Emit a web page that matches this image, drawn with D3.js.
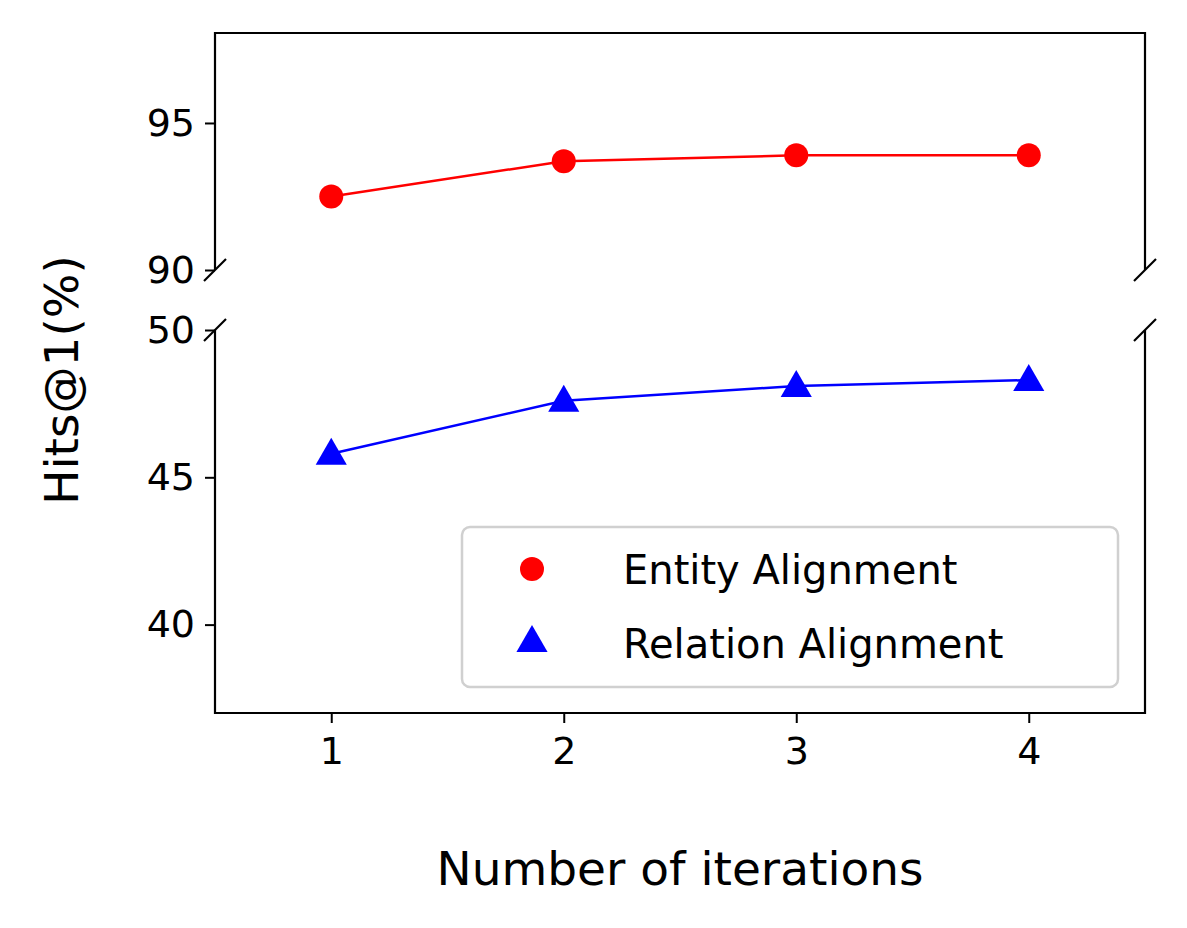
<!DOCTYPE html>
<html><head><meta charset="utf-8">
<script src="https://d3js.org/d3.v7.min.js"></script>
<style>body{margin:0;background:#fff}text{font-family:"DejaVu Sans",sans-serif}</style>
</head><body>
<script>
const iterations=[1,2,3,4];
const entity=[92.5,93.7,93.9,93.9];
const relation=[45.8,47.6,48.1,48.3];
const topTicks=[90,95];
const botTicks=[40,45,50];
const xTicks=[1,2,3,4];

const W=1187,H=928;
const svg=d3.select("body").append("svg").attr("width",W).attr("height",H);
const x=d3.scaleLinear().domain([0.5,4.5]).range([215,1145]);
const yT=d3.scaleLinear().domain([90,98.06]).range([270,33]);
const yB=d3.scaleLinear().domain([37,50]).range([713,330]);

function styleAxis(g){g.select(".domain").remove();g.selectAll("line").attr("stroke","#000").attr("stroke-width",2);
 g.selectAll("text").attr("font-size",38).attr("fill","#000");}
svg.append("g").attr("transform","translate(215,0)").call(d3.axisLeft(yT).tickValues(topTicks).tickFormat(d3.format("d")).tickSize(10).tickPadding(10)).call(styleAxis);
svg.append("g").attr("transform","translate(215,0)").call(d3.axisLeft(yB).tickValues(botTicks).tickFormat(d3.format("d")).tickSize(10).tickPadding(10)).call(styleAxis);
svg.append("g").attr("transform","translate(0,713)").call(d3.axisBottom(x).tickValues(xTicks).tickFormat(d3.format("d")).tickSize(10).tickPadding(14)).call(styleAxis);

const sp=svg.append("g").attr("stroke","#000").attr("stroke-width",2.2).attr("fill","none");
sp.append("path").attr("d",`M215,270V33H1145V270`);
sp.append("path").attr("d",`M215,330V713H1145V330`);
[215,1145].forEach(px=>{[270,330].forEach(py=>{
 sp.append("line").attr("x1",px-11).attr("y1",py+11).attr("x2",px+11).attr("y2",py-11);});});

svg.append("path").datum(entity).attr("fill","none").attr("stroke","red").attr("stroke-width",2.5)
 .attr("d",d3.line().x((d,i)=>x(iterations[i])).y(d=>yT(d)));
svg.selectAll(".ec").data(entity).join("circle").attr("cx",(d,i)=>x(iterations[i])).attr("cy",d=>yT(d)).attr("r",12).attr("fill","red");
svg.append("path").datum(relation).attr("fill","none").attr("stroke","blue").attr("stroke-width",2.5)
 .attr("d",d3.line().x((d,i)=>x(iterations[i])).y(d=>yB(d)));
const tri=d3.symbol().type(d3.symbolTriangle).size(420);
svg.selectAll(".rt").data(relation).join("path").attr("d",tri)
 .attr("transform",(d,i)=>`translate(${x(iterations[i])},${yB(d)+2})`).attr("fill","blue");

const lg=svg.append("g");
lg.append("rect").attr("x",462).attr("y",527).attr("width",656).attr("height",160).attr("rx",8)
 .attr("fill","#fff").attr("stroke","#d0d0d0").attr("stroke-width",2.5);
lg.append("circle").attr("cx",532).attr("cy",569).attr("r",12).attr("fill","red");
lg.append("path").attr("d",tri).attr("transform","translate(532,643)").attr("fill","blue");
lg.append("text").attr("x",623).attr("y",584).attr("font-size",40).text("Entity Alignment");
lg.append("text").attr("x",623).attr("y",658).attr("font-size",40).text("Relation Alignment");

svg.append("text").attr("x",680).attr("y",885).attr("text-anchor","middle").attr("font-size",47).text("Number of iterations");
svg.append("text").attr("transform","translate(78,380) rotate(-90)").attr("text-anchor","middle").attr("font-size",47).text("Hits@1(%)");
</script></body></html>
